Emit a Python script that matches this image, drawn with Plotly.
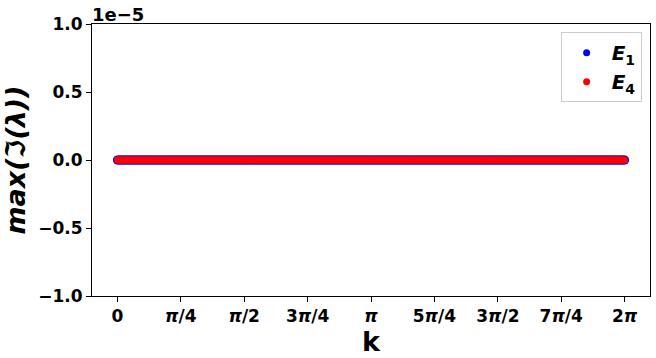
import numpy as np
import plotly.graph_objects as go

# data
n_points = 400
k_values = np.linspace(0, 2 * np.pi, n_points)
e1_imag_max = [0.0] * n_points
e4_imag_max = [0.0] * n_points
scale = 1e-5

x_tick_vals = [0, np.pi/4, np.pi/2, 3*np.pi/4, np.pi, 5*np.pi/4, 3*np.pi/2, 7*np.pi/4, 2*np.pi]
x_tick_text = ["0", "π/4", "π/2", "3π/4", "π", "5π/4", "3π/2", "7π/4", "2π"]
y_tick_vals = [-1.0, -0.5, 0.0, 0.5, 1.0]
y_tick_text = ["−1.0", "−0.5", "0.0", "0.5", "1.0"]

font = "DejaVu Sans"


def fmt_x(t):
    return "<b>" + t.replace("π", "<i>π</i>") + "</b>"


fig = go.Figure()
fig.add_trace(go.Scatter(
    x=k_values, y=[v / scale for v in e1_imag_max], mode="markers",
    marker=dict(color="#0000ff", size=9, line=dict(width=0)),
    showlegend=False))
fig.add_trace(go.Scatter(
    x=k_values, y=[v / scale for v in e4_imag_max], mode="markers",
    marker=dict(color="#ff0000", size=7, line=dict(width=0)),
    showlegend=False))
# legend entries
fig.add_trace(go.Scatter(x=[None], y=[None], mode="markers",
                         marker=dict(color="#0000ff", size=7),
                         name="<b><i>E</i><sub>1</sub></b>"))
fig.add_trace(go.Scatter(x=[None], y=[None], mode="markers",
                         marker=dict(color="#ff0000", size=7),
                         name="<b><i>E</i><sub>4</sub></b>"))

span = 2 * np.pi
fig.update_layout(
    width=656, height=358,
    margin=dict(l=92, r=6, t=24, b=62),
    paper_bgcolor="white", plot_bgcolor="white",
    font=dict(family=font, color="black", size=17),
    showlegend=True,
    legend=dict(x=0.985, y=0.97, xanchor="right", yanchor="top",
                bordercolor="#cccccc", borderwidth=1, bgcolor="rgba(255,255,255,0.8)",
                font=dict(size=20, family=font), itemsizing="trace",
                tracegroupgap=2, itemwidth=40),
    xaxis=dict(range=[-0.05 * span, 1.05 * span], tickvals=x_tick_vals,
               ticktext=[fmt_x(t) for t in x_tick_text],
               tickfont=dict(size=17, family=font),
               showgrid=False, zeroline=False, showline=True, linecolor="black", linewidth=1,
               mirror=True, ticks="outside", ticklen=5, tickcolor="black",
               title=dict(text="<b>k</b>", font=dict(size=27, family=font), standoff=4)),
    yaxis=dict(range=[-1.0, 1.0], tickvals=y_tick_vals,
               ticktext=["<b>" + t + "</b>" for t in y_tick_text],
               tickfont=dict(size=17, family=font),
               showgrid=False, zeroline=False, showline=True, linecolor="black", linewidth=1,
               mirror=True, ticks="outside", ticklen=5, tickcolor="black",
               title=dict(text="<b><i>max(ℑ(λ))</i></b>", font=dict(size=27, family=font), standoff=4)),
)
fig.add_annotation(text="<b>1e−5</b>", xref="paper", yref="paper", x=0.0, y=1.0,
                   xanchor="left", yanchor="bottom", showarrow=False,
                   font=dict(size=18, family=font), yshift=-3, xshift=-2)

fig.write_html("out.html")
